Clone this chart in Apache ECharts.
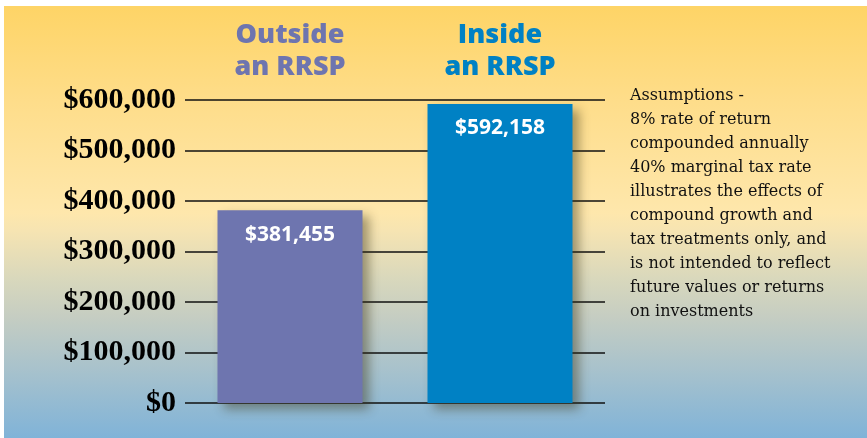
<!DOCTYPE html>
<html>
<head>
<meta charset="utf-8">
<script src="https://cdn.jsdelivr.net/npm/echarts@6/dist/echarts.min.js"></script>
<style>
  html, body { margin: 0; padding: 0; background: #ffffff; }
  #bg { position: absolute; left: 4px; top: 6px; width: 863px; height: 432px;
        background: linear-gradient(to bottom, #FED466 0%, #FEDD8A 22%, #FEE7AC 48%, #F6E4B2 52%, #D9D8BC 63%, #C5CDC2 72%, #A8C2CC 84%, #80B3D8 100%); }
  #chart { position: absolute; left: 0; top: 0; width: 867px; height: 438px; }
</style>
</head>
<body>
<div id="bg"></div>
<div id="chart"></div>
<script>
const categories = ["Outside\nan RRSP", "Inside\nan RRSP"];
const values = [381455, 592158];
const barColors = ["#6E75AF", "#0081C4"];
const yTicks = [0, 100000, 200000, 300000, 400000, 500000, 600000];
const notes = [
  "Assumptions -",
  "8% rate of return",
  "compounded annually",
  "40% marginal tax rate",
  "illustrates the effects of",
  "compound growth and",
  "tax treatments only, and",
  "is not intended to reflect",
  "future values or returns",
  "on investments"
];

function money(v) {
  return "$" + v.toString().replace(/\B(?=(\d{3})+(?!\d))/g, ",");
}

const chart = echarts.init(document.getElementById("chart"), null, { renderer: "canvas" });
chart.setOption({
  backgroundColor: "transparent",
  animation: false,
  grid: { left: 185, right: 262, top: 100, bottom: 35, containLabel: false },
  xAxis: {
    type: "category",
    position: "top",
    data: categories,
    axisLine: { show: false },
    axisTick: { show: false },
    axisLabel: {
      margin: 17,
      interval: 0,
      formatter: function (v, i) {
        const lines = v.split("\n");
        const s = i === 0 ? "a" : "b";
        return lines.map(l => "{" + s + "|" + l + "}").join("\n");
      },
      rich: {
        a: { color: "#6E75AF", fontFamily: "Open Sans", fontWeight: 800, fontSize: 27, lineHeight: 32 },
        b: { color: "#0081C4", fontFamily: "Open Sans", fontWeight: 800, fontSize: 27, lineHeight: 32 }
      }
    }
  },
  yAxis: {
    type: "value",
    min: 0,
    max: 600000,
    interval: 100000,
    axisLine: { show: false },
    axisTick: { show: false },
    splitLine: { show: true, lineStyle: { color: "#111111", width: 1.5 } },
    axisLabel: {
      margin: 9,
      color: "#000000",
      fontFamily: "Liberation Serif",
      fontWeight: 700,
      fontSize: 30,
      formatter: function (v) { return yTicks.indexOf(v) >= 0 ? money(v) : ""; }
    }
  },
  series: [{
    type: "bar",
    barWidth: 145,
    data: values.map((v, i) => ({
      value: v,
      itemStyle: {
        color: barColors[i],
        shadowColor: "rgba(60,50,20,0.45)",
        shadowBlur: 10,
        shadowOffsetX: 6,
        shadowOffsetY: 6
      }
    })),
    label: {
      show: true,
      position: "insideTop",
      distance: 14,
      color: "#ffffff",
      fontFamily: "Open Sans",
      fontWeight: 700,
      fontSize: 21,
      formatter: function (p) { return money(p.value); }
    }
  }],
  graphic: [{
    type: "text",
    left: 630,
    top: 84,
    style: {
      text: notes.join("\n"),
      fontFamily: "DejaVu Serif",
      fontSize: 16,
      lineHeight: 24,
      fill: "#111111"
    }
  }]
});
</script>
</body>
</html>
